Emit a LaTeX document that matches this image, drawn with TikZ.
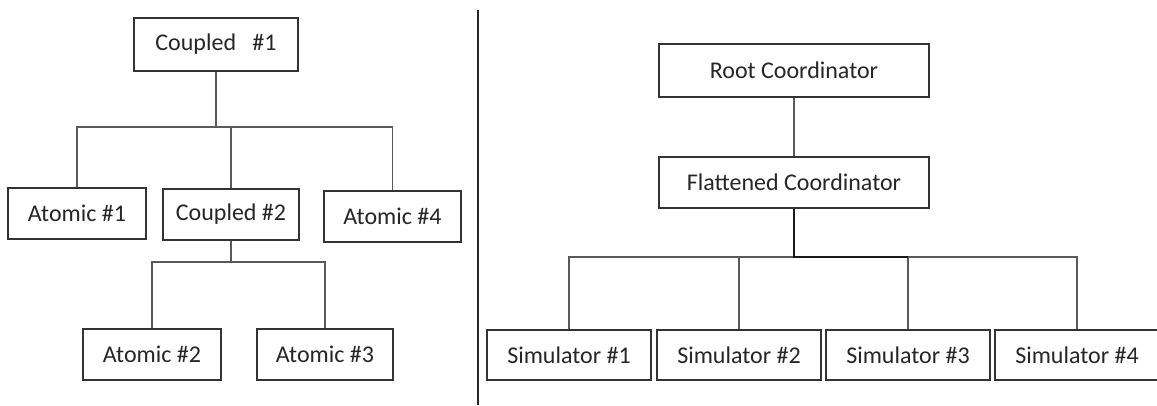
\documentclass[tikz,border=0pt]{standalone}
\usepackage{fontspec}
\setmainfont{Carlito}
\begin{document}
\begin{tikzpicture}[x=1pt, y=-1pt,
  box/.style={draw=black!80, line width=2pt, fill=white, rectangle, inner sep=0pt,
    minimum height=51pt, text=black!85, font=\fontsize{24}{27}\selectfont},
  wire/.style={draw=black!65, line width=1.6pt},
  divider/.style={draw=black!85, line width=2.4pt}]
\useasboundingbox (0,0) rectangle (1157,405);

% left: nested coupled model
\node[box, minimum width=164pt, minimum height=53pt] (c1) at (216,44.5) {Coupled\ \ \ \#1};
\node[box, minimum width=138pt] (a1) at (77,213.5) {Atomic \#1};
\node[box, minimum width=136pt] (c2) at (231,214) {Coupled \#2};
\node[box, minimum width=137pt] (a4) at (392.5,216.5) {Atomic \#4};
\node[box, minimum width=138pt] (a2) at (152,354.5) {Atomic \#2};
\node[box, minimum width=136pt] (a3) at (325,354.5) {Atomic \#3};

\coordinate (busA) at (0,127);
\coordinate (busB) at (0,262);
\draw[wire] (c1.south) -- (c1.south |- busA);
\draw[wire] (a1.north) |- (a4.north |- busA) -- (a4.north);
\draw[wire] (c2.north) -- (c2.north |- busA);
\draw[wire] (c2.south) -- (c2.south |- busB);
\draw[wire] (a2.north) |- (a3.north |- busB) -- (a3.north);

% separator
\coordinate (divtop) at (478,10);
\coordinate (divbot) at (478,405);
\draw[divider] (divtop) -- (divbot);

% right: flattened simulator hierarchy
\node[box, minimum width=270pt, minimum height=53pt] (root) at (794,70.5) {Root Coordinator};
\node[box, minimum width=270pt] (flat) at (794,182.5) {Flattened Coordinator};
\node[box, minimum width=164pt, minimum height=50pt] (s1) at (569,355) {Simulator \#1};
\node[box, minimum width=164pt, minimum height=50pt] (s2) at (739,355) {Simulator \#2};
\node[box, minimum width=164pt, minimum height=50pt] (s3) at (908,355) {Simulator \#3};
\node[box, minimum width=164pt, minimum height=50pt] (s4) at (1077,355) {Simulator \#4};

\coordinate (busC) at (0,257);
\draw[wire] (root.south) -- (flat.north);
\draw[wire] (s1.north) |- (s4.north |- busC) -- (s4.north);
\draw[wire] (s2.north) -- (s2.north |- busC);
\draw[wire] (s3.north) -- (s3.north |- busC);
\draw[wire, draw=black!90] (flat.south) |- (s3.north |- busC);
\end{tikzpicture}
\end{document}
